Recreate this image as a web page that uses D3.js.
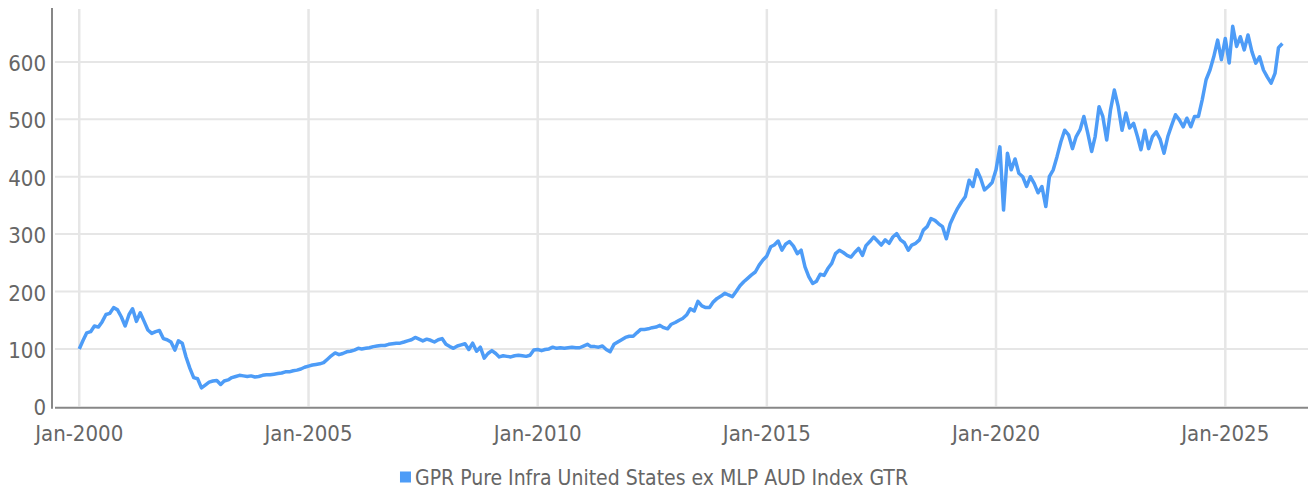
<!DOCTYPE html>
<html>
<head>
<meta charset="utf-8">
<script src="https://cdn.jsdelivr.net/npm/d3@7"></script>
<style>
  body { margin: 0; background: #fff; }
  text { font-family: "Liberation Sans Narrow", "DejaVu Sans Condensed", "Roboto", sans-serif; fill: #666; }
</style>
</head>
<body>
<svg id="chart" width="1308" height="493"></svg>
<script>
// Série mensuelle, premier point = janvier 2000
const seriesName = 'GPR Pure Infra United States ex MLP AUD Index GTR'
const firstMonth = new Date(2000, 0, 1)

const values2000_04 = [
  100, 115, 128, 130, 140, 138, 147, 160, 162, 172, 168, 156,
  140, 160, 170, 148, 163, 148, 133, 127, 130, 132, 118, 116,
  112, 98, 114, 110, 86, 66, 50, 48, 32, 37, 42, 44,
  45, 38, 44, 46, 50, 52, 54, 53, 52, 53, 51, 52,
  54, 55, 55, 56, 57, 58, 60, 60, 62, 63, 65, 68
]
const values2005_09 = [
  70, 72, 73, 74, 76, 82, 88, 93, 90, 92, 95, 96,
  98, 101, 100, 101, 102, 104, 105, 106, 106, 108, 109, 110,
  110, 112, 114, 116, 120, 117, 114, 117, 115, 112, 116, 118,
  108, 104, 101, 105, 107, 109, 99, 110, 96, 103, 84, 92,
  97, 92, 86, 88, 87, 86, 88, 89, 88, 87, 89, 98
]
const values2010_14 = [
  99, 97, 99, 100, 103, 101, 102, 101, 102, 103, 102, 102,
  105, 108, 104, 104, 103, 105, 99, 95, 108, 112, 116, 120,
  122, 122, 128, 134, 134, 135, 137, 138, 141, 137, 135, 143,
  146, 150, 153, 159, 170, 166, 183, 175, 172, 172, 182, 188,
  192, 197, 194, 191, 200, 210, 217, 223, 229, 234, 246, 255
]
const values2015_19 = [
  262, 278, 281, 288, 272, 283, 287, 279, 266, 272, 243, 226,
  214, 218, 230, 228, 240, 249, 266, 272, 268, 263, 260, 268,
  275, 263, 280, 287, 295, 288, 281, 290, 284, 295, 301, 290,
  285, 272, 281, 284, 290, 307, 313, 327, 324, 318, 313, 292,
  318, 333, 345, 356, 365, 394, 383, 412, 397, 377, 383, 390
]
const values2020_24 = [
  412, 452, 342, 441, 412, 431, 406, 400, 383, 400, 388, 372,
  383, 348, 400, 412, 435, 461, 481, 473, 449, 470, 482, 505,
  476, 444, 470, 522, 505, 464, 516, 551, 522, 481, 511, 485,
  493, 470, 447, 481, 449, 470, 478, 465, 441, 470, 490, 508,
  499, 487, 502, 487, 505, 505, 534, 569, 586, 609, 638, 604
]
const values2025_26 = [
  641, 598, 662, 627, 644, 621, 647, 618, 598, 609, 586, 574,
  563, 580, 625, 632
]

const yTicks = [0, 100, 200, 300, 400, 500, 600]
const xTickYears = [2000, 2005, 2010, 2015, 2020, 2025]

//Dimensions
const width = 1308
const height = 493
const margin = { left: 52, right: 0, top: 8, bottom: 87 }
const yMax = 694
const lineColor = '#4d9cf7'
const gridColor = '#e6e6e6'
const axisColor = '#878787'

const values = [].concat(values2000_04, values2005_09, values2010_14, values2015_19, values2020_24, values2025_26)
const months = d3.timeMonth.range(firstMonth, d3.timeMonth.offset(firstMonth, values.length))
const data = months.map((m, i) => ({ date: m, value: values[i] }))

const svg = d3.select('#chart')

const x = d3.scaleTime()
  .domain([new Date(1999, 4, 29), new Date(2026, 9, 22)])
  .range([margin.left, width - margin.right])

const y = d3.scaleLinear()
  .domain([0, yMax])
  .range([height - margin.bottom + 0.3, margin.top])

//Grille horizontale
svg.append('g')
  .selectAll('line')
  .data(yTicks.slice(1))
  .enter()
  .append('line')
  .attr('x1', margin.left + 3)
  .attr('x2', width)
  .attr('y1', d => y(d))
  .attr('y2', d => y(d))
  .attr('stroke', gridColor)
  .attr('stroke-width', 2)

//Grille verticale
const xTicks = xTickYears.map(yr => new Date(yr, 0, 1))
svg.append('g')
  .selectAll('line')
  .data(xTicks)
  .enter()
  .append('line')
  .attr('x1', d => x(d))
  .attr('x2', d => x(d))
  .attr('y1', margin.top + 1)
  .attr('y2', y(0))
  .attr('stroke', gridColor)
  .attr('stroke-width', 2.5)

//Ligne de la série
const line = d3.line()
  .x(d => x(d.date))
  .y(d => y(d.value))

svg.append('path')
  .datum(data)
  .attr('fill', 'none')
  .attr('stroke', lineColor)
  .attr('stroke-width', 3.5)
  .attr('stroke-linejoin', 'round')
  .attr('d', line)

//Axes
svg.append('line')
  .attr('x1', margin.left)
  .attr('x2', margin.left)
  .attr('y1', margin.top)
  .attr('y2', y(0) + 2.5)
  .attr('stroke', axisColor)
  .attr('stroke-width', 2)

svg.append('line')
  .attr('x1', margin.left + 3)
  .attr('x2', width)
  .attr('y1', y(0) + 1.5)
  .attr('y2', y(0) + 1.5)
  .attr('stroke', axisColor)
  .attr('stroke-width', 2)

svg.append('g')
  .selectAll('text')
  .data(yTicks)
  .enter()
  .append('text')
  .attr('x', margin.left - 6)
  .attr('y', d => y(d) + 3)
  .attr('text-anchor', 'end')
  .attr('dominant-baseline', 'middle')
  .style('font-size', '22px')
  .text(d => d)

const fmt = d3.timeFormat('%b-%Y')
svg.append('g')
  .selectAll('text')
  .data(xTicks)
  .enter()
  .append('text')
  .attr('x', d => x(d))
  .attr('y', 441)
  .attr('text-anchor', 'middle')
  .style('font-size', '22px')
  .text(d => fmt(d))

//Légende
const legend = svg.append('g').attr('transform', 'translate(' + (width / 2) + ', 477)')
const legendText = legend.append('text')
  .attr('x', 0)
  .attr('y', 8)
  .style('font-size', '21px')
  .text(seriesName)
const tw = legendText.node().getComputedTextLength()
const startX = -(tw + 15) / 2
legend.append('rect')
  .attr('x', startX)
  .attr('y', -5.5)
  .attr('width', 11)
  .attr('height', 11)
  .attr('fill', lineColor)
legendText.attr('x', startX + 15)
</script>
</body>
</html>
